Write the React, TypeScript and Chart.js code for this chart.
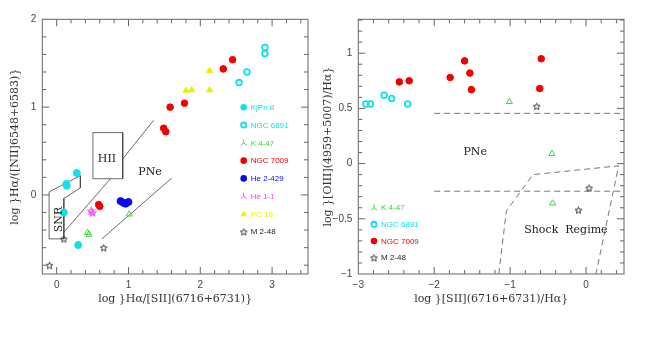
import React, { useEffect, useRef } from "react";
import { Chart, registerables } from "chart.js";
Chart.register(...registerables);

// ---------------- Left panel data: log Ha/[SII] vs log Ha/[NII] ----------------
const kjpn8L = [{ x: 0.28, y: 0.25 }, { x: 0.135, y: 0.125 }, { x: 0.14, y: 0.105 }, { x: 0.10, y: -0.20 }, { x: 0.30, y: -0.57 }];
const ngc6891L = [{ x: 2.90, y: 1.68 }, { x: 2.90, y: 1.61 }, { x: 2.65, y: 1.40 }, { x: 2.54, y: 1.28 }];
const k447L = [{ x: 0.43, y: -0.43 }, { x: 0.45, y: -0.45 }, { x: 1.01, y: -0.22 }];
const ngc7009L = [{ x: 2.45, y: 1.54 }, { x: 2.32, y: 1.435 }, { x: 1.78, y: 1.045 }, { x: 1.58, y: 1.0 }, { x: 1.49, y: 0.76 }, { x: 1.52, y: 0.72 }, { x: 0.585, y: -0.11 }, { x: 0.60, y: -0.13 }];
const he2429L = [{ x: 0.89, y: -0.07 }, { x: 0.93, y: -0.09 }, { x: 0.96, y: -0.10 }, { x: 1.0, y: -0.08 }];
const he11L = [{ x: 0.48, y: -0.18 }, { x: 0.50, y: -0.20 }];
const pc19L = [{ x: 2.13, y: 1.415 }, { x: 1.80, y: 1.19 }, { x: 1.88, y: 1.195 }, { x: 2.13, y: 1.195 }];
const m248L = [{ x: 0.10, y: -0.50 }, { x: 0.655, y: -0.60 }, { x: -0.10, y: -0.80 }];

const snrBox = [{ x: -0.105, y: 0.035 }, { x: 0.33, y: 0.22 }, { x: 0.33, y: 0.08 }, { x: 0.10, y: -0.04 }, { x: 0.10, y: -0.50 }, { x: -0.105, y: -0.50 }, { x: -0.105, y: 0.035 }];
const hiiBox = [{ x: 0.505, y: 0.185 }, { x: 0.505, y: 0.71 }, { x: 0.92, y: 0.71 }, { x: 0.92, y: 0.185 }, { x: 0.505, y: 0.185 }];
const lineSnrHii = [{ x: 0.10, y: -0.425 }, { x: 0.75, y: 0.185 }];
const lineHiiUpper = [{ x: 0.92, y: 0.41 }, { x: 1.35, y: 0.85 }];
const linePNeLower = [{ x: 0.63, y: -0.50 }, { x: 1.60, y: 0.19 }];

const xTicksL = [0, 1, 2, 3];
const yTicksL = [0, 1, 2];

// ---------------- Right panel data: log [SII]/Ha vs log [OIII]/Ha ----------------
const ngc6891R = [{ x: -2.90, y: 0.54 }, { x: -2.84, y: 0.54 }, { x: -2.66, y: 0.62 }, { x: -2.56, y: 0.59 }, { x: -2.35, y: 0.54 }];
const ngc7009R = [{ x: -2.46, y: 0.74 }, { x: -2.33, y: 0.75 }, { x: -1.79, y: 0.78 }, { x: -1.60, y: 0.93 }, { x: -1.53, y: 0.82 }, { x: -1.51, y: 0.67 }, { x: -0.59, y: 0.95 }, { x: -0.61, y: 0.68 }];
const k447R = [{ x: -1.01, y: 0.56 }, { x: -0.45, y: 0.09 }, { x: -0.44, y: -0.36 }];
const m248R = [{ x: -0.65, y: 0.52 }, { x: 0.04, y: -0.22 }, { x: -0.10, y: -0.42 }];

const pneUpper = [{ x: -2.0, y: 0.455 }, { x: 0.5, y: 0.455 }];
const pneLower = [{ x: -2.0, y: -0.25 }, { x: 0.5, y: -0.25 }];
const shockRegion = [{ x: -1.15, y: -1.0 }, { x: -1.05, y: -0.43 }, { x: -0.70, y: -0.10 }, { x: 0.43, y: -0.02 }, { x: 0.13, y: -1.0 }];

const xTicksR = [-3, -2, -1, 0];
const yTicksR = [-1, -0.5, 0, 0.5, 1];

// ---------------- styles ----------------
const CYAN = "#10e0ea";
const RED = "#f20000";
const BLUE = "#0a0af0";
const GREEN = "#3ada3a";
const MAGENTA = "#f050f0";
const YELLOW = "#eeee00";
const BLACK = "#222222";
const FRAME = "#666666";
const SERIF = "'DejaVu Serif', serif";
const SANS = "'Liberation Sans', Arial, sans-serif";

function makeStar(color: string, size: number, lw: number, fill?: string) {
  const c = document.createElement("canvas");
  c.width = size;
  c.height = size;
  const ctx = c.getContext("2d")!;
  const cx = size / 2, cy = size / 2 + 0.5, R = size / 2 - 1, r = R * 0.45;
  ctx.beginPath();
  for (let i = 0; i < 10; i++) {
    const a = -Math.PI / 2 + (i * Math.PI) / 5;
    const rr = i % 2 ? r : R;
    const px = cx + rr * Math.cos(a), py = cy + rr * Math.sin(a);
    if (i === 0) ctx.moveTo(px, py); else ctx.lineTo(px, py);
  }
  ctx.closePath();
  if (fill) { ctx.fillStyle = fill; ctx.fill(); }
  ctx.strokeStyle = color;
  ctx.lineWidth = lw;
  ctx.stroke();
  return c;
}

const fmt = (v: number) => (v < 0 ? "\u2212" + String(Math.abs(v)) : String(v));

type Legend = { label: string; color: string; kind: string }[];

function drawMarker(ctx: CanvasRenderingContext2D, kind: string, color: string, x: number, y: number, star: HTMLCanvasElement) {
  ctx.save();
  ctx.fillStyle = color;
  ctx.strokeStyle = color;
  if (kind === "dot") {
    ctx.beginPath(); ctx.arc(x, y, 3.3, 0, Math.PI * 2); ctx.fill();
  } else if (kind === "ring") {
    ctx.lineWidth = 1.8; ctx.beginPath(); ctx.arc(x, y, 2.6, 0, Math.PI * 2); ctx.stroke();
  } else if (kind === "tri" || kind === "ftri") {
    ctx.lineWidth = 1;
    ctx.beginPath(); ctx.moveTo(x, y - 3.5); ctx.lineTo(x + 3.2, y + 2.2); ctx.lineTo(x - 3.2, y + 2.2); ctx.closePath();
    if (kind === "ftri") ctx.fill(); else ctx.stroke();
  } else if (kind === "tripod") {
    ctx.lineWidth = 1;
    ctx.beginPath(); ctx.moveTo(x, y - 3.5); ctx.lineTo(x, y); ctx.lineTo(x - 3, y + 2.5); ctx.moveTo(x, y); ctx.lineTo(x + 3, y + 2.5); ctx.stroke();
  } else if (kind === "star") {
    ctx.drawImage(star, x - star.width / 2, y - star.height / 2);
  }
  ctx.restore();
}

function framePlugin(opts: {
  xMinor: number; xMajor: number; yMinor: number; yMajor: number;
  legend: Legend; legendX: number; legendY0: number; legendDy: number;
  labels: { text: string; x: number; y: number; rot?: boolean; size?: number }[];
  star: HTMLCanvasElement;
}) {
  return {
    id: "frame",
    afterDraw(chart: any) {
      const ctx: CanvasRenderingContext2D = chart.ctx;
      const { left, right, top, bottom } = chart.chartArea;
      const xs = chart.scales.x, ys = chart.scales.y;
      ctx.save();
      ctx.strokeStyle = FRAME;
      ctx.lineWidth = 1;
      ctx.strokeRect(left, top, right - left, bottom - top);
      const drawTicks = (scale: any, minor: number, major: number, horiz: boolean) => {
        const start = Math.ceil(scale.min / minor - 1e-6);
        const end = Math.floor(scale.max / minor + 1e-6);
        for (let i = start; i <= end; i++) {
          const v = Math.round(i * minor * 1000) / 1000;
          const p = scale.getPixelForValue(v);
          const isMajor = Math.abs(v / major - Math.round(v / major)) < 1e-6;
          const len = isMajor ? 7 : 4;
          ctx.beginPath();
          if (horiz) {
            if (p <= left + 0.5 || p >= right - 0.5) continue;
            ctx.moveTo(p, bottom); ctx.lineTo(p, bottom - len);
            ctx.moveTo(p, top); ctx.lineTo(p, top + len);
          } else {
            if (p <= top + 0.5 || p >= bottom - 0.5) continue;
            ctx.moveTo(left, p); ctx.lineTo(left + len, p);
            ctx.moveTo(right, p); ctx.lineTo(right - len, p);
          }
          ctx.stroke();
        }
      };
      drawTicks(xs, opts.xMinor, opts.xMajor, true);
      drawTicks(ys, opts.yMinor, opts.yMajor, false);

      // legend
      ctx.font = `8px ${SANS}`;
      ctx.textBaseline = "middle";
      ctx.textAlign = "left";
      opts.legend.forEach((it, i) => {
        const y = opts.legendY0 + i * opts.legendDy;
        drawMarker(ctx, it.kind, it.color, opts.legendX, y, opts.star);
        ctx.fillStyle = it.color;
        ctx.fillText(it.label, opts.legendX + 7, y + 0.5);
      });

      // region labels
      ctx.fillStyle = "#222";
      ctx.textAlign = "center";
      opts.labels.forEach((l) => {
        const px = xs.getPixelForValue(l.x), py = ys.getPixelForValue(l.y);
        ctx.font = `${l.size || 11}px ${SERIF}`;
        if (l.rot) {
          ctx.save(); ctx.translate(px, py); ctx.rotate(-Math.PI / 2); ctx.fillText(l.text, 0, 0); ctx.restore();
        } else ctx.fillText(l.text, px, py);
      });
      ctx.restore();
    },
  };
}

function axisOpts(min: number, max: number, ticks: number[], title: string, size: number, titlePad: any, isX: boolean) {
  return {
    type: "linear",
    min, max,
    grid: { display: false, drawTicks: false },
    border: { display: false },
    afterBuildTicks: (s: any) => { s.ticks = ticks.map((v) => ({ value: v })); },
    afterFit: (s: any) => { if (isX) s.height = size; else s.width = size; },
    ticks: { autoSkip: false, padding: isX ? 5 : 6, color: "#444", font: { family: SANS, size: 10 }, callback: (v: number) => fmt(v) },
    title: { display: true, text: title, color: "#333", font: { family: SERIF, size: 11 }, padding: titlePad },
  };
}

const line = (data: any[], dashed = false) => ({
  type: "line", data, showLine: true, pointRadius: 0, borderColor: dashed ? "#777" : "#444",
  borderWidth: dashed ? 1 : 0.8, borderDash: dashed ? [6, 4] : [], fill: false, tension: 0,
});
const pts = (data: any[], style: any, color: string, radius: number, filled: boolean, bw = 1) => ({
  type: "scatter", data, pointStyle: style, pointRadius: radius, pointHoverRadius: radius,
  backgroundColor: filled ? color : "rgba(0,0,0,0)", borderColor: color, borderWidth: bw,
});

export default function App() {
  const leftRef = useRef<HTMLCanvasElement>(null);
  const rightRef = useRef<HTMLCanvasElement>(null);

  useEffect(() => {
    const starBlack = makeStar(BLACK, 9, 0.9);
    const starMag = makeStar(MAGENTA, 9, 1.2);
    const left = new Chart(leftRef.current!, {
      type: "scatter",
      data: {
        datasets: [
          pts(kjpn8L, "circle", CYAN, 3.5, true),
          pts(ngc6891L, "circle", CYAN, 2.8, false, 1.8),
          pts(k447L, "triangle", GREEN, 3.5, false, 1),
          pts(ngc7009L, "circle", RED, 3.3, true),
          pts(he2429L, "circle", BLUE, 3.5, true),
          pts(he11L, starMag, MAGENTA, 4.5, false),
          pts(pc19L, "triangle", YELLOW, 3.5, true),
          pts(m248L, starBlack, BLACK, 4.5, false),
          line(snrBox), line(hiiBox), line(lineSnrHii), line(lineHiiUpper), line(linePNeLower),
        ] as any,
      },
      options: {
        responsive: false, animation: false,
        layout: { padding: { left: 0, top: 19.3, right: 22, bottom: 32 } },
        plugins: { legend: { display: false }, tooltip: { enabled: false } },
        scales: {
          x: axisOpts(-0.2, 3.5, xTicksL, "log }H\u03b1/[SII](6716+6731)}", 32, { top: 0, bottom: 0.4 }, true),
          y: axisOpts(-0.9, 2.0, yTicksL, "log }H\u03b1/([NII]6548+6583)}", 42.3, { top: 9, bottom: 0 }, false),
        } as any,
      },
      plugins: [framePlugin({
        xMinor: 0.2, xMajor: 1, yMinor: 0.2, yMajor: 1,
        legend: [
          { label: "KjPn 8", color: CYAN, kind: "dot" },
          { label: "NGC 6891", color: CYAN, kind: "ring" },
          { label: "K 4-47", color: GREEN, kind: "tripod" },
          { label: "NGC 7009", color: RED, kind: "dot" },
          { label: "He 2-429", color: BLUE, kind: "dot" },
          { label: "He 1-1", color: MAGENTA, kind: "tripod" },
          { label: "PC 19", color: YELLOW, kind: "ftri" },
          { label: "M 2-48", color: BLACK, kind: "star" },
        ],
        legendX: 243.7, legendY0: 107.3, legendDy: 17.78,
        labels: [
          { text: "HII", x: 0.70, y: 0.41 },
          { text: "PNe", x: 1.30, y: 0.26 },
          { text: "SNR", x: 0.04, y: -0.28, rot: true },
        ],
        star: starBlack,
      }) as any],
    } as any);

    const right = new Chart(rightRef.current!, {
      type: "scatter",
      data: {
        datasets: [
          pts(ngc6891R, "circle", CYAN, 2.8, false, 1.8),
          pts(ngc7009R, "circle", RED, 3.3, true),
          pts(k447R, "triangle", GREEN, 3.5, false, 1),
          pts(m248R, starBlack, BLACK, 4.5, false),
          line(pneUpper, true), line(pneLower, true), line(shockRegion, true),
        ] as any,
      },
      options: {
        responsive: false, animation: false,
        layout: { padding: { left: 0, top: 19.3, right: 30, bottom: 32 } },
        plugins: { legend: { display: false }, tooltip: { enabled: false } },
        scales: {
          x: axisOpts(-3.0, 0.5, xTicksR, "log }[SII](6716+6731)/H\u03b1}", 32, { top: 0, bottom: 0.4 }, true),
          y: axisOpts(-1.0, 1.307, yTicksR, "log }[OIII](4959+5007)/H\u03b1}", 42.3, { top: 6, bottom: 0 }, false),
        } as any,
      },
      plugins: [framePlugin({
        xMinor: 0.2, xMajor: 1, yMinor: 0.1, yMajor: 0.5,
        legend: [
          { label: "K 4-47", color: GREEN, kind: "tripod" },
          { label: "NGC 6891", color: CYAN, kind: "ring" },
          { label: "NGC 7009", color: RED, kind: "dot" },
          { label: "M 2-48", color: BLACK, kind: "star" },
        ],
        legendX: 374 - 316, legendY0: 207.7, legendDy: 16.67,
        labels: [
          { text: "PNe", x: -1.46, y: 0.10 },
          { text: "Shock  Regime", x: -0.265, y: -0.60 },
        ],
        star: starBlack,
      }) as any],
    } as any);

    return () => { left.destroy(); right.destroy(); };
  }, []);

  return (
    <div style={{ position: "absolute", left: 0, top: 0, width: 654, height: 338, background: "#fff" }}>
      <canvas ref={leftRef} width={330} height={338} style={{ position: "absolute", left: 0, top: 0, width: 330, height: 338 }} />
      <canvas ref={rightRef} width={338} height={338} style={{ position: "absolute", left: 316, top: 0, width: 338, height: 338 }} />
    </div>
  );
}
